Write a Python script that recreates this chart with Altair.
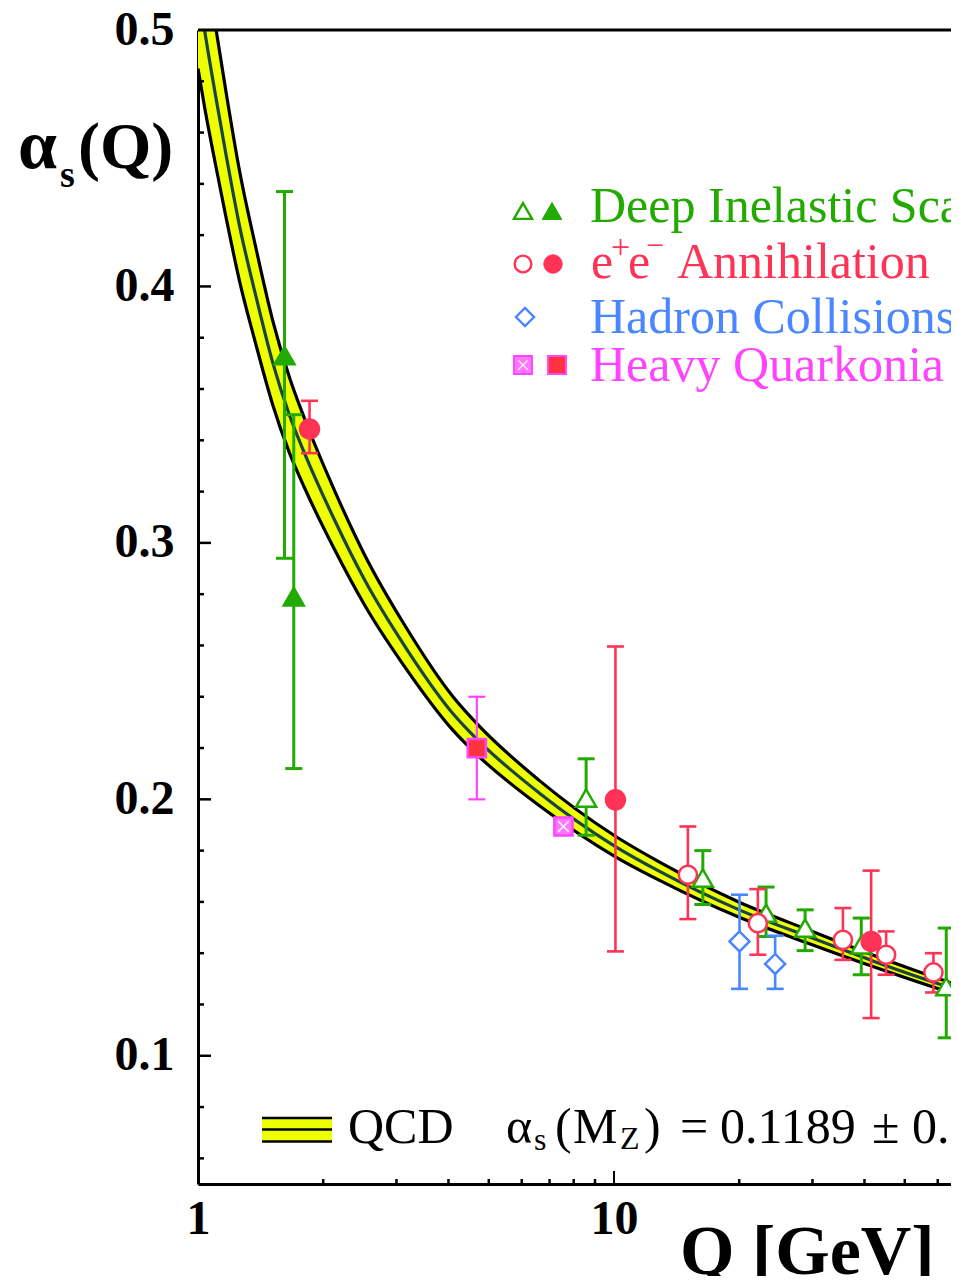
import altair as alt
import pandas as pd

# ---------------- data ----------------
# QCD band: centre line and band edges
curve_q = [1.0, 1.037, 1.106, 1.169, 1.258, 1.374, 1.514, 1.660, 1.803, 2.128, 2.512,
           3.162, 4.093, 4.70, 6.62, 10.08, 12.87, 20.0, 29.5, 41.9, 67.4, 91.2]
curve_a = [0.517, 0.500, 0.473, 0.451, 0.4237, 0.397, 0.370, 0.3497, 0.335, 0.309, 0.2857,
           0.259, 0.2336, 0.2232, 0.2024, 0.1816, 0.1719, 0.1569, 0.1463, 0.1370, 0.1255, 0.1189]
curve_lo = [0.485, 0.470, 0.4462, 0.4266, 0.4022, 0.3781, 0.3536, 0.3350, 0.3215, 0.2975, 0.2759,
            0.2510, 0.2271, 0.2172, 0.1975, 0.1776, 0.1684, 0.1540, 0.1437, 0.1348, 0.1236, 0.1172]
curve_hi = [0.549, 0.530, 0.4998, 0.4754, 0.4452, 0.4159, 0.3864, 0.3644, 0.3485, 0.3205, 0.2955,
            0.2671, 0.2402, 0.2292, 0.2073, 0.1856, 0.1755, 0.1599, 0.1489, 0.1393, 0.1274, 0.1206]

# Deep inelastic scattering
dis_q = [1.614, 1.699, 8.57, 16.35, 23.2, 28.8, 39.3, 62.9]
dis_a = [0.373, 0.279, 0.2005, 0.1693, 0.1556, 0.1498, 0.1433, 0.127]
dis_lo = [0.294, 0.212, 0.186, 0.159, 0.1465, 0.141, 0.1316, 0.107]
dis_hi = [0.437, 0.350, 0.2158, 0.180, 0.1658, 0.1569, 0.1537, 0.1498]
dis_filled = [True, True, False, False, False, False, False, False]

# e+e- annihilation
ee_q = [1.854, 10.08, 15.05, 22.17, 35.5, 41.5, 45.1, 58.6]
ee_a = [0.3444, 0.1998, 0.1706, 0.1517, 0.1452, 0.1446, 0.1394, 0.1325]
ee_lo = [0.335, 0.1407, 0.1533, 0.1394, 0.1374, 0.1147, 0.1316, 0.1247]
ee_hi = [0.3554, 0.2596, 0.1894, 0.165, 0.1576, 0.1722, 0.1485, 0.140]
ee_filled = [True, True, False, False, False, True, False, False]

# Hadron collisions
had_q = [20.03, 24.4]
had_a = [0.1446, 0.1358]
had_lo = [0.1261, 0.1261]
had_hi = [0.1628, 0.1468]

# Heavy quarkonia
hq_q = [4.68, 7.56]
hq_a = [0.220, 0.1894]
hq_lo = [0.200, None]
hq_hi = [0.240, None]
hq_filled = [True, False]

# axis tick values / labels
x_labels = [1, 10]
y_labels = [0.1, 0.2, 0.3, 0.4, 0.5]
x_major = [10]
x_minor = [2, 3, 4, 5, 6, 7, 8, 9, 20, 30, 40, 50, 60]
y_major = [0.1, 0.2, 0.3, 0.4]
y_minor = [0.06, 0.08, 0.12, 0.14, 0.16, 0.18, 0.22, 0.24, 0.26, 0.28,
           0.32, 0.34, 0.36, 0.38, 0.42, 0.44, 0.46, 0.48]

# ---------------- styling ----------------
FONT = "Liberation Serif"
GREEN = "#22aa00"
RED = "#ff3355"
BLUE = "#4a86ff"
MAGENTA = "#ff44ff"
HQ_FILL = "#ff3340"
BAND = "#eeff00"
CENTER = "#1a4444"
W, H = 761, 1154
LS = 50  # legend font size

xs = alt.Scale(type="log", domain=[1, 67.5], nice=False)
ys = alt.Scale(domain=[0.05, 0.5], nice=False, zero=False)

AXX = alt.Axis(values=x_labels, format="~g", title=None, ticks=False, grid=False,
               domainColor="black", domainWidth=3, labelFont=FONT, labelFontSize=48,
               labelFontWeight="bold", labelColor="black", labelPadding=11,
               labelFlush=False, labelOverlap=False)
AXY = alt.Axis(values=y_labels, format=".1f", title=None, ticks=False, grid=False,
               domainColor="black", domainWidth=3, labelFont=FONT, labelFontSize=48,
               labelFontWeight="bold", labelColor="black", labelPadding=24,
               labelFlush=False, labelOverlap=False)

one = pd.DataFrame({"k": [0]})
curve = pd.DataFrame({"q": curve_q, "a": curve_a, "lo": curve_lo, "hi": curve_hi})


def mk(q, a, lo, hi, filled=None):
    d = pd.DataFrame({"q": q, "a": a, "lo": lo, "hi": hi})
    d["filled"] = filled if filled is not None else [False] * len(q)
    return d


dis = mk(dis_q, dis_a, dis_lo, dis_hi, dis_filled)
ee = mk(ee_q, ee_a, ee_lo, ee_hi, ee_filled)
had = mk(had_q, had_a, had_lo, had_hi)
hq = mk(hq_q, hq_a, hq_lo, hq_hi, hq_filled)


def X(f="q"):
    return alt.X(f"{f}:Q", scale=xs, axis=AXX)


def Y(f):
    return alt.Y(f"{f}:Q", scale=ys, axis=AXY)


layers = []

# QCD band
layers.append(alt.Chart(curve).mark_area(color=BAND, interpolate="monotone", clip=True).encode(
    x=X(), y=Y("lo"), y2="hi:Q"))
for f, c in (("lo", "black"), ("hi", "black"), ("a", CENTER)):
    layers.append(alt.Chart(curve).mark_line(color=c, strokeWidth=3.2, interpolate="monotone",
                                             clip=True).encode(x=X(), y=Y(f)))

# frame top line
layers.append(alt.Chart(one).mark_rule(color="black", strokeWidth=3).encode(
    x=alt.value(0), x2=alt.value(W), y=alt.value(0)))

# inward ticks
layers.append(alt.Chart(pd.DataFrame({"v": y_major})).mark_rule(color="black", strokeWidth=2.5).encode(
    y=Y("v"), x=alt.value(0), x2=alt.value(13)))
layers.append(alt.Chart(pd.DataFrame({"v": y_minor})).mark_rule(color="black", strokeWidth=2.5).encode(
    y=Y("v"), x=alt.value(0), x2=alt.value(6)))
layers.append(alt.Chart(pd.DataFrame({"v": x_major})).mark_rule(color="black", strokeWidth=2).encode(
    x=X("v"), y=alt.value(H), y2=alt.value(H - 13)))
layers.append(alt.Chart(pd.DataFrame({"v": x_minor})).mark_rule(color="black", strokeWidth=2.5).encode(
    x=X("v"), y=alt.value(H), y2=alt.value(H - 5)))


def errors(df, color, w):
    base = alt.Chart(df)
    out = [base.mark_rule(color=color, strokeWidth=w, clip=True).encode(
        x=X(), y=Y("lo"), y2="hi:Q")]
    for f in ("lo", "hi"):
        out.append(base.mark_tick(orient="horizontal", color=color, size=17, thickness=w,
                                  opacity=1, clip=True).encode(x=X(), y=Y(f)))
    return out


layers += errors(dis, GREEN, 3)
layers += errors(ee, RED, 2.6)
layers += errors(had, BLUE, 2.6)
layers += errors(hq, MAGENTA, 2.2)

XSHAPE = "M-0.6,-0.6L0.6,0.6M0.6,-0.6L-0.6,0.6"


def pts(df, shape, size, fill, stroke, sw=2.5):
    return alt.Chart(df).mark_point(shape=shape, size=size, filled=True, fill=fill, stroke=stroke,
                                    strokeWidth=sw, opacity=1, fillOpacity=1, clip=True).encode(
        x=X(), y=Y("a"))


dis_open = dis[~dis["filled"]]
dis_fill = dis[dis["filled"]]
ee_open = ee[~ee["filled"]]
ee_fill = ee[ee["filled"]]
hq_open = hq[~hq["filled"]]
hq_fill = hq[hq["filled"]]

layers.append(pts(hq_fill, "square", 330, HQ_FILL, MAGENTA))
layers.append(pts(hq_open, "square", 330, "#ff77ff", MAGENTA))
layers.append(alt.Chart(hq_open).mark_point(shape=XSHAPE, size=300, filled=False, stroke="white",
                                            strokeWidth=1.5, opacity=1, clip=True).encode(x=X(), y=Y("a")))
layers.append(pts(had, "diamond", 400, "white", BLUE))
layers.append(pts(dis_open, "triangle-up", 400, "white", GREEN))
layers.append(pts(ee_open, "circle", 330, "white", RED))
layers.append(pts(dis_fill, "triangle-up", 400, GREEN, GREEN))
layers.append(pts(ee_fill, "circle", 360, RED, RED))


def txt(s, x, y, size, color="black", weight="normal"):
    return alt.Chart(one).mark_text(text=s, align="left", baseline="alphabetic", font=FONT,
                                    fontSize=size, fontWeight=weight, color=color).encode(
        x=alt.value(x), y=alt.value(y))


def sym(shape, x, y, size, fill, stroke, sw=2.5):
    return alt.Chart(one).mark_point(shape=shape, size=size, filled=True, fill=fill, stroke=stroke,
                                     strokeWidth=sw, opacity=1, fillOpacity=1).encode(
        x=alt.value(x), y=alt.value(y))


# top legend
layers += [
    sym("triangle-up", 325, 181, 330, "white", GREEN, 2.4),
    sym("triangle-up", 354, 181, 380, GREEN, GREEN, 1),
    sym("circle", 325, 234, 280, "white", RED, 2.4),
    sym("circle", 355, 234, 340, RED, RED, 1),
    sym("diamond", 327, 287, 330, "white", BLUE, 2.4),
    sym("square", 325, 335, 320, "#ff77ff", MAGENTA, 2),
    sym("square", 359, 335, 320, HQ_FILL, MAGENTA, 2),
    txt("Deep Inelastic Scattering", 392, 192, LS, GREEN),
    txt("e", 393, 248, LS, RED),
    txt("+", 413, 228, 34, RED),
    txt("e", 430, 248, LS, RED),
    txt("\u2212", 448, 226, 32, RED),
    txt("Annihilation", 479, 248, LS, RED),
    txt("Hadron Collisions", 392, 303, LS, BLUE),
    txt("Heavy Quarkonia", 392, 351, LS, MAGENTA),
]
layers.append(alt.Chart(one).mark_point(shape=XSHAPE, size=240, filled=False, stroke="white",
                                        strokeWidth=1.3, opacity=1).encode(x=alt.value(325), y=alt.value(335)))

# bottom legend (QCD band symbol + text)
layers.append(alt.Chart(one).mark_rect(color=BAND).encode(
    x=alt.value(64), x2=alt.value(134), y=alt.value(1088), y2=alt.value(1112)))
for yy in (1088, 1099.5, 1111.5):
    layers.append(alt.Chart(one).mark_rule(color="black", strokeWidth=2.5).encode(
        x=alt.value(64), x2=alt.value(134), y=alt.value(yy)))
layers += [
    txt("QCD", 150, 1113, LS),
    txt("\u03b1", 308, 1113, LS),
    txt("s", 336, 1120, 32),
    txt("(", 357, 1113, LS),
    txt("M", 375, 1113, LS),
    txt("Z", 422, 1119, 32),
    txt(")", 446, 1113, LS),
    txt("=", 482, 1113, LS),
    txt("0.1189", 522, 1113, LS),
    txt("\u00b1", 674, 1113, LS),
    txt("0.0010", 714, 1113, LS),
]

# axis titles
layers += [
    txt("\u03b1", -180, 138, 70, weight="bold"),
    txt("s", -138, 157, 38, weight="bold"),
    txt("(Q)", -120, 138, 66, weight="bold"),
    txt("Q [GeV]", 482, 1244, 70, weight="bold"),
]

chart = alt.layer(*layers).properties(
    width=W, height=H,
    autosize=alt.AutoSizeParams(type="none"),
    padding={"left": 190, "top": 22, "right": -8, "bottom": 92},
    background="white",
).configure_view(stroke=None)

chart.save("out.html", embed_options={"renderer": "svg", "actions": False})
